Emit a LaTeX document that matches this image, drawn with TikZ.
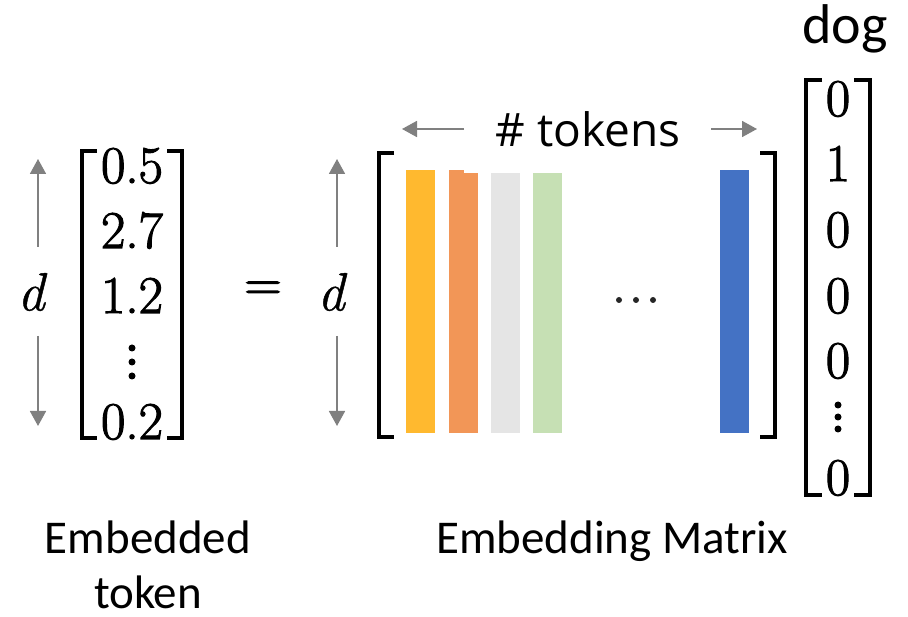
\documentclass[tikz,border=0pt]{standalone}
\usepackage{fontspec}
\setmainfont{Carlito}
\newfontfamily\uifont{Open Sans}
\newfontfamily\lmfont[FakeBold=2]{Latin Modern Roman}
\newfontfamily\lmitfont[FakeBold=0.8]{Latin Modern Roman}
\usetikzlibrary{arrows.meta}

\definecolor{tokgold}{HTML}{FFB92F}
\definecolor{tokorange}{HTML}{F29657}
\definecolor{tokgray}{HTML}{E5E5E5}
\definecolor{tokgreen}{HTML}{C6E0B4}
\definecolor{tokblue}{HTML}{4472C4}
\definecolor{dimgray}{HTML}{808080}

\begin{document}
\begin{tikzpicture}[x=1pt,y=-1pt,
  brk/.style={line width=4.5pt, line cap=butt, line join=miter},
  dimarrow/.style={draw=dimgray, line width=1.8pt,
    -{Triangle[length=15pt,width=16pt]}},
  num/.style={anchor=base, inner sep=0pt, font=\lmfont\fontsize{53}{53}\selectfont},
  dimlabel/.style={inner sep=0pt, font=\lmitfont\itshape\fontsize{54}{54}\selectfont},
  caption/.style={anchor=base, inner sep=0pt, font=\fontsize{47}{47}\selectfont},
  vdot/.style={fill=black, radius=3.5pt},
]
\useasboundingbox (0,0) rectangle (908,617);

% ---------- embedded token vector ----------
\draw[brk] (97,151) -- (82,151) -- (82,438) -- (97,438);
\draw[brk] (167,151) -- (182,151) -- (182,438) -- (167,438);
\node[num] (e1) at (132,183) {0.5};
\node[num] (e2) at (132,248) {2.7};
\node[num] (e3) at (132,313) {1.2};
\fill[vdot] (132,348) circle;
\fill[vdot] (132,362) circle;
\fill[vdot] (132,376) circle;
\node[num] (e4) at (132,439) {0.2};

\node[dimlabel] (dL) at (31,292) {d};
\coordinate (dLtop) at (38,159);
\coordinate (dLup) at (38,247);
\coordinate (dLdown) at (38,336);
\coordinate (dLbot) at (38,426);
\draw[dimarrow] (dLup) -- (dLtop);
\draw[dimarrow] (dLdown) -- (dLbot);

% ---------- equals sign ----------
\node[inner sep=0pt, font=\lmfont\fontsize{52}{52}\selectfont] (eq) at (263,291) {=};

% ---------- embedding matrix ----------
\node[dimlabel] (dM) at (331,292) {d};
\coordinate (dMtop) at (337,159);
\coordinate (dMup) at (337,247);
\coordinate (dMdown) at (337,336);
\coordinate (dMbot) at (337,426);
\draw[dimarrow] (dMup) -- (dMtop);
\draw[dimarrow] (dMdown) -- (dMbot);

\draw[brk] (394,153) -- (379,153) -- (379,437) -- (394,437);
\draw[brk] (760,153) -- (775,153) -- (775,437) -- (760,437);

\fill[tokgold]   (406,170) rectangle (435,433);
\fill[tokorange] (449,170) rectangle (464,433);
\fill[tokorange] (449,173) rectangle (478,433);
\fill[tokgray]   (491,173) rectangle (520,433);
\fill[tokgreen]  (533,173) rectangle (562,433);
\fill[tokblue]   (720,170) rectangle (749,433);

\fill[black!85] (619,300) circle[radius=3pt];
\fill[black!85] (636,300) circle[radius=3pt];
\fill[black!85] (653,300) circle[radius=3pt];

\node[anchor=base, inner sep=0pt, font=\uifont\fontsize{46}{46}\selectfont] (ntok) at (588,147) {\# tokens};
\coordinate (tLstart) at (464,129);
\coordinate (tLend) at (402,129);
\coordinate (tRstart) at (711,129);
\coordinate (tRend) at (757,129);
\draw[dimarrow] (tLstart) -- (tLend);
\draw[dimarrow] (tRstart) -- (tRend);

% ---------- one-hot vector ----------
\node[anchor=base, inner sep=0pt, font=\fontsize{56}{56}\selectfont] (dog) at (845,44) {dog};
\draw[brk] (822,80) -- (806,80) -- (806,495) -- (822,495);
\draw[brk] (854,80) -- (870,80) -- (870,495) -- (854,495);
\node[num] (o1) at (838,116) {0};
\node[num] (o2) at (838,181) {1};
\node[num] (o3) at (838,247) {0};
\node[num] (o4) at (838,313) {0};
\node[num] (o5) at (838,378) {0};
\fill[vdot] (838,405) circle;
\fill[vdot] (838,417) circle;
\fill[vdot] (838,429) circle;
\node[num] (o6) at (838,495) {0};

% ---------- captions ----------
\node[caption] (capA) at (148,553) {Embedded};
\node[caption] (capB) at (148,608) {token};
\node[caption] (capC) at (612,553) {Embedding Matrix};
\end{tikzpicture}
\end{document}
